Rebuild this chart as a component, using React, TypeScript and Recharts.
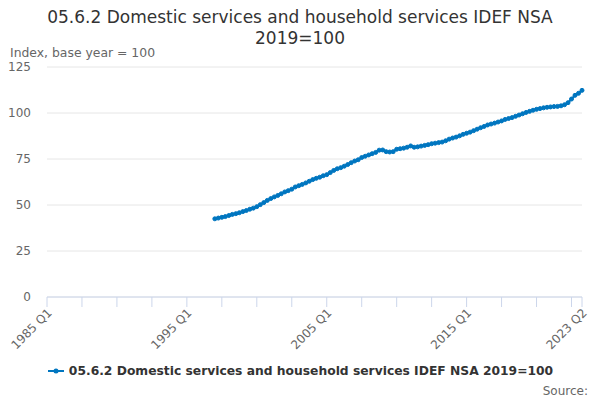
import { CartesianGrid, Line, LineChart, XAxis, YAxis } from 'recharts';

const TITLE_LINES = ['05.6.2 Domestic services and household services IDEF NSA', '2019=100'];
const SERIES_NAME = '05.6.2 Domestic services and household services IDEF NSA 2019=100';
const Y_LABEL = 'Index, base year = 100';

const FIRST_YEAR = 1985;
const LAST_YEAR = 2023;
const LAST_QUARTER = 2;
const FIRST_VALUE_LABEL = '1997 Q1';

// quarterly values from 1997 Q1 to 2023 Q2
const VALUES = [
  42.5, 42.9, 43.3, 43.7, // 1997
  44.3, 44.9, 45.3, 45.8, // 1998
  46.4, 47.0, 47.7, 48.3, // 1999
  49.1, 50.2, 51.3, 52.5, // 2000
  53.5, 54.4, 55.2, 56.1, // 2001
  57.1, 57.8, 58.6, 59.8, // 2002
  60.5, 61.2, 62.0, 62.9, // 2003
  63.8, 64.5, 65.1, 65.9, // 2004
  66.5, 67.6, 68.8, 69.7, // 2005
  70.3, 71.1, 72.0, 73.0, // 2006
  73.9, 74.6, 75.8, 76.5, // 2007
  77.2, 77.9, 78.6, 79.8, // 2008
  79.9, 79.0, 78.8, 79.0, // 2009
  80.3, 80.6, 80.9, 81.4, // 2010
  82.1, 81.4, 81.6, 82.0, // 2011
  82.4, 82.8, 83.3, 83.6, // 2012
  83.9, 84.2, 84.9, 85.8, // 2013
  86.4, 86.9, 87.6, 88.4, // 2014
  89.0, 89.6, 90.4, 91.2, // 2015
  92.0, 92.7, 93.5, 94.0, // 2016
  94.5, 95.1, 95.7, 96.5, // 2017
  97.0, 97.5, 98.2, 98.9, // 2018
  99.6, 100.3, 100.9, 101.5, // 2019
  102.0, 102.4, 102.8, 103.1, // 2020
  103.3, 103.5, 103.6, 103.9, // 2021
  104.5, 105.6, 107.6, 109.6, // 2022
  110.7, 112.3, // 2023
];

const Y_TICKS = [0, 25, 50, 75, 100, 125];
const X_TICK_LABELS = ['1985 Q1', '1995 Q1', '2005 Q1', '2015 Q1', '2023 Q2'];

const QUARTERS: string[] = [];
for (let y = FIRST_YEAR; y <= LAST_YEAR; y++) {
  for (let q = 1; q <= 4; q++) {
    if (y === LAST_YEAR && q > LAST_QUARTER) break;
    QUARTERS.push(`${y} Q${q}`);
  }
}

const offset = QUARTERS.indexOf(FIRST_VALUE_LABEL);
const data = QUARTERS.map((label, idx) => ({
  idx,
  label,
  value: idx >= offset ? VALUES[idx - offset] : null,
}));

const lastIdx = QUARTERS.length - 1;
const xTicks = [...QUARTERS.map((_, i) => i).filter((i) => i % 10 === 0), lastIdx];

const COLOR = '#0076c0';

function XTick({ x, y, payload }: { x?: number; y?: number; payload?: { value: number } }) {
  const label = QUARTERS[payload?.value ?? 0];
  if (!X_TICK_LABELS.includes(label)) return null;
  const tx = (x ?? 0) + 3;
  const ty = (y ?? 0) + 2;
  return (
    <text
      x={tx}
      y={ty}
      transform={`rotate(-45 ${tx} ${ty})`}
      textAnchor="end"
      fill="#666666"
      fontSize={12}
      dy="0.3em"
    >
      {label}
    </text>
  );
}

export default function App() {
  return (
    <div
      style={{
        position: 'absolute',
        left: 0,
        top: 0,
        width: 600,
        height: 400,
        fontFamily: '"DejaVu Sans", sans-serif',
        background: '#fff',
      }}
    >
      <div
        style={{
          position: 'absolute',
          top: 7,
          left: 0,
          width: 600,
          textAlign: 'center',
          fontSize: 17,
          lineHeight: '21px',
          color: '#333333',
        }}
      >
        {TITLE_LINES.map((t) => (
          <div key={t}>{t}</div>
        ))}
      </div>
      <div style={{ position: 'absolute', top: 45, left: 10, fontSize: 12.4, color: '#666666' }}>{Y_LABEL}</div>

      <LineChart width={600} height={400} data={data} margin={{ top: 67, right: 18, left: 0, bottom: 43 }}>
        <CartesianGrid vertical={false} stroke="#e6e6e6" />
        <XAxis
          dataKey="idx"
          type="number"
          domain={[0, lastIdx]}
          ticks={xTicks}
          interval={0}
          height={60}
          stroke="#ccd6eb"
          tickSize={10}
          tickMargin={2}
          tick={<XTick />}
        />
        <YAxis
          domain={[0, 125]}
          ticks={Y_TICKS}
          width={47}
          axisLine={false}
          tickLine={false}
          tickSize={0}
          tickMargin={16}
          tick={{ fill: '#666666', fontSize: 12 }}
        />
        <Line
          dataKey="value"
          stroke={COLOR}
          strokeWidth={2}
          dot={{ r: 2, fill: COLOR, stroke: COLOR, strokeWidth: 1 }}
          isAnimationActive={false}
          connectNulls={false}
        />
      </LineChart>

      <div
        style={{
          position: 'absolute',
          top: 364,
          left: 0,
          width: 600,
          display: 'flex',
          justifyContent: 'center',
          alignItems: 'center',
          fontSize: 12.3,
          fontWeight: 'bold',
          color: '#333333',
        }}
      >
        <svg width={18} height={10} style={{ marginRight: 4 }}>
          <line x1={1} y1={5} x2={17} y2={5} stroke={COLOR} strokeWidth={2} />
          <circle cx={9} cy={5} r={2.5} fill={COLOR} />
        </svg>
        <span>{SERIES_NAME}</span>
      </div>
      <div style={{ position: 'absolute', top: 384, right: 12, fontSize: 12, color: '#666666' }}>Source:</div>
    </div>
  );
}
